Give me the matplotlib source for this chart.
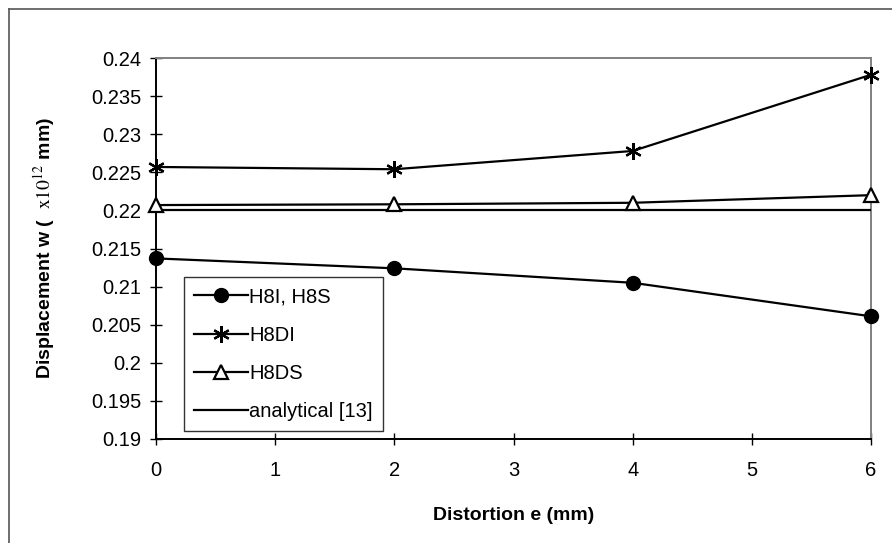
import matplotlib
matplotlib.use("Agg")
import matplotlib.pyplot as plt
from matplotlib.lines import Line2D

plt.rcParams['font.family'] = ['Liberation Sans', 'DejaVu Sans']
plt.rcParams['mathtext.fontset'] = 'stix'

distortion = [0, 2, 4, 6]
h8i_h8s = [0.2137, 0.2124, 0.2105, 0.2061]
h8di = [0.2257, 0.2254, 0.2278, 0.2378]
h8ds = [0.2207, 0.2208, 0.2210, 0.2220]
analytical = [0.22, 0.22, 0.22, 0.22]

xticks = [0, 1, 2, 3, 4, 5, 6]
yticks = [0.19, 0.195, 0.2, 0.205, 0.21, 0.215, 0.22, 0.225, 0.23, 0.235, 0.24]
yticklabels = ['0.19', '0.195', '0.2', '0.205', '0.21', '0.215', '0.22', '0.225', '0.23', '0.235', '0.24']

fig = plt.figure(figsize=(8.92, 5.43), dpi=100)
ax = fig.add_axes([156/892, 1-439/543, 715/892, 381/543])

# outer frame (only left/top visible)
fig.add_artist(Line2D([9/892, 9/892], [0, 1-9/543], transform=fig.transFigure, color='#555555', lw=1.2))
fig.add_artist(Line2D([9/892, 1], [1-9/543, 1-9/543], transform=fig.transFigure, color='#555555', lw=1.2))

lw = 1.6
ax.plot(distortion, h8i_h8s, color='black', lw=lw, marker='o', ms=10,
        mfc='black', mec='black', label='H8I, H8S', clip_on=False, zorder=4)
ax.plot(distortion, h8di, color='black', lw=lw, marker=(6, 2, 0), ms=12,
        mew=1.6, mec='black', label='H8DI', clip_on=False, zorder=4)
ax.plot(distortion, h8ds, color='black', lw=lw, marker='^', ms=9.5,
        mfc='white', mec='black', mew=1.6, label='H8DS', clip_on=False, zorder=4)
ax.plot(distortion, analytical, color='black', lw=lw, label='analytical [13]', zorder=3)

ax.set_xlim(0, 6)
ax.set_ylim(0.19, 0.24)
ax.set_xticks(xticks)
ax.set_xticklabels([str(t) for t in xticks])
ax.set_yticks(yticks)
ax.set_yticklabels(yticklabels)

for s in ['top', 'right']:
    ax.spines[s].set_color('#808080')
    ax.spines[s].set_linewidth(1.4)
for s in ['left', 'bottom']:
    ax.spines[s].set_color('black')
    ax.spines[s].set_linewidth(1.4)

fs = 14.5
ax.tick_params(axis='both', direction='inout', length=9, width=1, labelsize=fs, colors='black')
ax.tick_params(axis='x', pad=11)
ax.tick_params(axis='y', pad=6)

ax.set_xlabel('Distortion e (mm)', fontsize=14, fontweight='bold', va='center')
ax.xaxis.set_label_coords(0.5, -(515-439)/381)
ax.set_ylabel(r'Displacement w (  $\mathrm{x10^{12}}$ mm)', fontsize=14, fontweight='bold', va='center')
ax.yaxis.set_label_coords((44-156)/715, 0.5)

leg = ax.legend(loc='lower left', bbox_to_anchor=((184-156)/715, (439-431)/381),
                fontsize=fs, frameon=True, fancybox=False, edgecolor='black',
                borderaxespad=0, handlelength=2.7, handletextpad=0.05,
                labelspacing=0.95, borderpad=0.5)
leg.get_frame().set_linewidth(1.0)

fig.savefig('out.png', dpi=100)
